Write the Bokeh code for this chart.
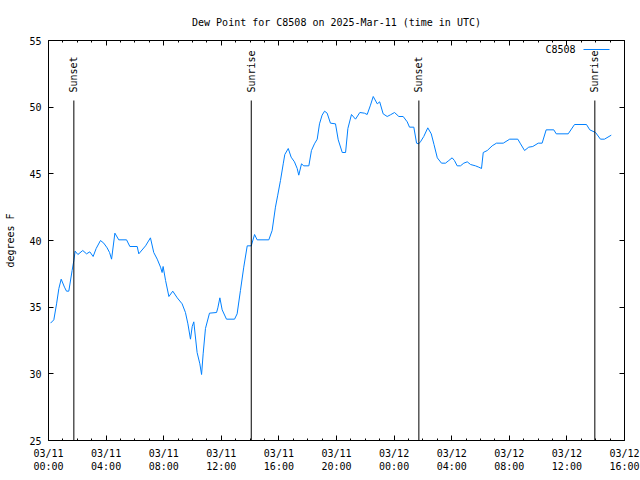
import math
from bokeh.plotting import figure
from bokeh.models import Range1d, FixedTicker, LinearAxis, Label, Arrow
from bokeh.core.properties import value
from bokeh.embed import file_html
from bokeh.resources import INLINE

# hours since 2025-03-11 00:00 UTC
hours = [0.14, 0.37, 0.56, 0.72, 0.88, 1.11, 1.25, 1.41, 1.64, 1.76, 1.85, 2.04, 2.38, 2.64, 2.87,
         3.10, 3.31, 3.61, 3.84, 4.07, 4.24, 4.38, 4.61, 4.88, 5.42, 5.65, 6.16, 6.27, 6.74, 7.08,
         7.31, 7.55, 7.78, 7.89, 7.96, 8.13, 8.36, 8.63, 8.94, 9.28, 9.51, 9.68, 9.86, 9.98, 10.09,
         10.32, 10.51, 10.63, 10.74, 10.90, 11.18, 11.67, 11.76, 11.90, 12.06, 12.36, 12.92, 13.10,
         13.33, 13.56, 13.80, 14.08, 14.31, 14.49, 15.30, 15.53, 15.76, 15.92, 16.11, 16.30, 16.41,
         16.65, 16.85, 17.08, 17.27, 17.38, 17.57, 17.73, 18.08, 18.26, 18.47, 18.66, 18.82, 19.00,
         19.17, 19.35, 19.58, 19.93, 20.12, 20.40, 20.63, 20.79, 21.04, 21.32, 21.62, 21.94, 22.13,
         22.36, 22.55, 22.83, 23.00, 23.24, 23.52, 23.75, 24.03, 24.33, 24.63, 24.91, 25.07, 25.37,
         25.56, 25.70, 25.83, 26.06, 26.34, 26.58, 26.77, 27.00, 27.29, 27.57, 27.80, 28.03, 28.19,
         28.38, 28.61, 28.84, 29.08, 29.31, 29.65, 29.88, 30.07, 30.19, 30.47, 30.81, 31.11, 31.58,
         32.03, 32.59, 32.78, 33.06, 33.35, 33.63, 34.01, 34.28, 34.56, 35.09, 35.26, 36.09, 36.53,
         37.36, 37.59, 37.99, 38.33, 38.61, 39.08]
dewpoint = [33.8, 34.05, 35.25, 36.4, 37.1, 36.5, 36.2, 36.2, 37.75, 38.5, 39.2, 38.95, 39.25, 39.0, 39.15,
            38.8, 39.4, 40.0, 39.8, 39.45, 39.1, 38.6, 40.55, 40.05, 40.05, 39.55, 39.55, 39.0, 39.6, 40.2,
            39.1, 38.6, 38.0, 37.6, 38.05, 37.0, 35.8, 36.2, 35.7, 35.25, 34.6, 33.75, 32.6, 33.55, 33.9,
            31.6, 30.75, 29.95, 31.5, 33.4, 34.55, 34.6, 34.95, 35.7, 34.8, 34.1, 34.1, 34.5,
            36.25, 38.0, 39.6, 39.6, 40.45, 40.05, 40.05, 40.75, 42.5, 43.4, 44.5, 45.75, 46.45,
            46.9, 46.25, 45.9, 45.4, 44.9, 45.75, 45.6, 45.6, 46.75, 47.25, 47.6, 48.75, 49.4,
            49.7, 49.55, 48.8, 48.75, 47.55, 46.6, 46.6, 48.4, 49.45, 49.1, 49.6, 49.55, 49.45,
            50.15, 50.8, 50.25, 50.4, 49.5, 49.3, 49.43, 49.6, 49.3, 49.3, 48.9, 48.5, 48.5,
            47.3, 47.25, 47.4, 47.8, 48.45, 48.0, 47.2, 46.2, 45.8, 45.8, 46.0, 46.2, 46.0,
            45.6, 45.6, 45.8, 45.9, 45.7, 45.6, 45.5, 45.4, 46.6, 46.75, 47.1, 47.3, 47.3,
            47.6, 47.6, 47.25, 46.75, 47.0, 47.05, 47.3, 47.3, 48.3, 48.3, 48.0, 48.0, 48.7,
            48.7, 48.3, 48.1, 47.6, 47.6, 47.9]

event_hours = [1.76, 14.08, 25.72, 37.94]
event_names = ["Sunset", "Sunrise", "Sunset", "Sunrise"]
event_line_top = 50.5
event_label_y = 51.1

tick_hours = [0, 4, 8, 12, 16, 20, 24, 28, 32, 36, 40]
tick_labels = ["03/11\n00:00", "03/11\n04:00", "03/11\n08:00", "03/11\n12:00", "03/11\n16:00",
               "03/11\n20:00", "03/12\n00:00", "03/12\n04:00", "03/12\n08:00", "03/12\n12:00",
               "03/12\n16:00"]
minor_hours = list(range(0, 41))
y_ticks = [25, 30, 35, 40, 45, 50, 55]

title_text = "Dew Point for C8508 on 2025-Mar-11 (time in UTC)"
series_name = "C8508"
y_label = "degrees F"

FONT = "DejaVu Sans Mono"
FS = "10px"
LINE_COLOR = "#0080ff"

p = figure(width=640, height=480, x_range=Range1d(0, 40), y_range=Range1d(25, 55),
           output_backend="svg", toolbar_location=None,
           x_axis_type=None, y_axis_type=None,
           min_border_left=48, min_border_right=16, min_border_top=40, min_border_bottom=40)
p.xgrid.visible = False
p.ygrid.visible = False
p.outline_line_color = "black"
p.outline_line_width = 1
p.background_fill_color = "white"
p.border_fill_color = "white"

p.title.text = title_text
p.title.align = "center"
p.title.text_font = FONT
p.title.text_font_size = FS
p.title.text_font_style = "normal"
p.title.text_color = "black"
p.title.standoff = 25


def style(ax, show_labels=True):
    ax.axis_line_color = None
    ax.major_tick_in = 5
    ax.major_tick_out = 0
    ax.minor_tick_in = 2
    ax.minor_tick_out = 0
    ax.major_tick_line_color = "black"
    ax.minor_tick_line_color = "black"
    ax.major_label_text_font = FONT
    ax.major_label_text_font_size = FS if show_labels else "0px"
    ax.major_label_text_color = "black"
    if not show_labels:
        ax.major_label_standoff = 0


overrides = {float(h): l for h, l in zip(tick_hours, tick_labels)}

xb = LinearAxis(ticker=FixedTicker(ticks=tick_hours, minor_ticks=minor_hours))
style(xb)
xb.major_label_overrides = overrides
xb.major_label_standoff = 7
p.add_layout(xb, "below")

xt = LinearAxis(ticker=FixedTicker(ticks=tick_hours, minor_ticks=minor_hours))
style(xt, False)
xt.major_label_overrides = {float(h): "" for h in tick_hours}
p.add_layout(xt, "above")

yl = LinearAxis(ticker=FixedTicker(ticks=y_ticks, minor_ticks=[]))
style(yl)
yl.major_label_standoff = 7
yl.axis_label = y_label
yl.axis_label_text_font = FONT
yl.axis_label_text_font_size = FS
yl.axis_label_text_font_style = "normal"
yl.axis_label_text_color = "black"
yl.axis_label_standoff = 10
p.add_layout(yl, "left")

yr = LinearAxis(ticker=FixedTicker(ticks=y_ticks, minor_ticks=[]))
style(yr, False)
yr.major_label_overrides = {float(v): "" for v in y_ticks}
p.add_layout(yr, "right")

p.line(hours, dewpoint, line_color=LINE_COLOR, line_width=1)

p.segment(x0=event_hours, y0=[25] * len(event_hours), x1=event_hours,
          y1=[event_line_top] * len(event_hours), line_color="black", line_width=1)
p.text(x=event_hours, y=[event_label_y] * len(event_hours), text=event_names,
       angle=math.pi / 2, text_align="left", text_baseline="middle",
       text_font=value(FONT), text_font_size=FS, text_color="black")

# legend (gnuplot style: label left of sample); screen units from frame bottom-left (frame 576 x 400)
p.add_layout(Label(x=527, y=391, x_units="screen", y_units="screen", text=series_name,
                   text_align="right", text_baseline="middle",
                   text_font=FONT, text_font_size=FS, text_color="black"))
p.add_layout(Arrow(end=None, x_start=535, y_start=391, x_end=561, y_end=391,
                   start_units="screen", end_units="screen",
                   line_color=LINE_COLOR, line_width=1))

open("out.html", "w").write(file_html(p, INLINE))
